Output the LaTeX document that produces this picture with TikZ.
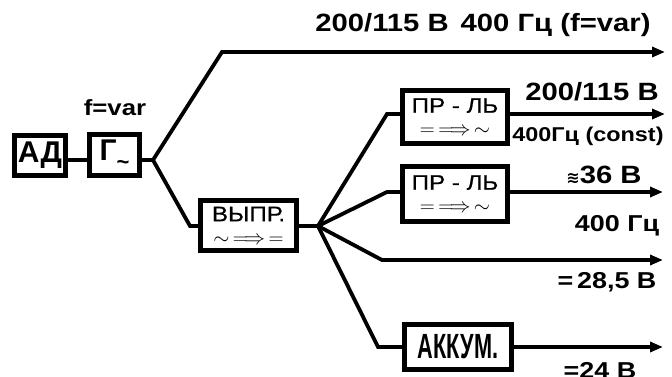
\documentclass[tikz,border=0pt]{standalone}
\usepackage{fontspec}
\setmainfont{Liberation Sans}
\newfontfamily\widefont{Liberation Sans}[FakeStretch=1.17]
\newfontfamily\boxfont{Liberation Sans}[FakeStretch=1.15,FakeBold=0.6]
\newfontfamily\narrowfont{Liberation Sans}[FakeStretch=0.62]
\newfontfamily\symfont{DejaVu Sans}
\usetikzlibrary{arrows.meta}

\begin{document}
\begin{tikzpicture}[x=1pt,y=-1pt,
  blk/.style={draw, line width=5pt, inner sep=0pt, anchor=center, align=center},
  conv/.style={blk, font=\boxfont\fontsize{21}{20}\selectfont},
  wire/.style={line width=3.8pt, line join=miter},
  feed/.style={wire, -{Triangle[length=13pt,width=10pt]}},
  lab/.style={inner sep=0pt, anchor=base, font=\widefont\bfseries\fontsize{25}{25}\selectfont},
  midlab/.style={lab, font=\widefont\bfseries\fontsize{23}{23}\selectfont},
]
\useasboundingbox (0,0) rectangle (672,377);

% blocks
\node[blk, minimum width=51pt, minimum height=40pt,
      font=\bfseries\fontsize{30}{30}\selectfont] (AD) at (40,155.5) {АД};
\node[blk, minimum width=50pt, minimum height=41pt,
      font=\bfseries\fontsize{30}{30}\selectfont] (G) at (114.5,155)
      {Г\raisebox{-9pt}{\fontsize{22}{22}\selectfont\textasciitilde}};
\node[conv, minimum width=96pt, minimum height=50pt] (VP) at (248.5,225.5)
      {ВЫПР.\\[3pt]
       {\fontsize{21}{21}\selectfont$\sim\,\Longrightarrow\,=$}};
\node[conv, minimum width=105pt, minimum height=53pt] (PR1) at (455,117)
      {ПР - ЛЬ\\[3pt]
       {\fontsize{21}{21}\selectfont$=\,\Longrightarrow\,\sim$}};
\node[conv, minimum width=105pt, minimum height=55pt] (PR2) at (455,194)
      {ПР - ЛЬ\\[3pt]
       {\fontsize{21}{21}\selectfont$=\,\Longrightarrow\,\sim$}};
\node[blk, minimum width=107pt, minimum height=45pt,
      font=\narrowfont\bfseries\fontsize{35}{35}\selectfont] (AK) at (458,347) {АККУМ.};

% branch points, bends and line ends
\coordinate (b1) at (153,160);
\coordinate (k0) at (222,52);
\coordinate (e0) at (665,52);
\coordinate (k1) at (190,226);
\coordinate (b2) at (318,226);
\coordinate (k2) at (387,114);
\coordinate (e2) at (665,114);
\coordinate (k3) at (387,192);
\coordinate (e3) at (663,192);
\coordinate (k4) at (382,260);
\coordinate (e4) at (663,260);
\coordinate (k5) at (378,347);
\coordinate (e5) at (663,347);

% connectors
\draw[wire] (AD.east |- b1) -- (G.west |- b1);
\draw[wire] (G.east |- b1) -- (b1);
\draw[feed] (b1) -- (k0) -- (e0);
\draw[wire] (b1) -- (k1) -- (k1 -| VP.west);
\draw[wire] (VP.east |- b2) -- (b2);
\draw[wire] (b2) -- (k2) -- (k2 -| PR1.west);
\draw[feed] (k2 -| PR1.east) -- (e2);
\draw[wire] (b2) -- (k3) -- (k3 -| PR2.west);
\draw[feed] (k3 -| PR2.east) -- (e3);
\draw[feed] (b2) -- (k4) -- (e4);
\draw[wire] (b2) -- (k5) -- (k5 -| AK.west);
\draw[feed] (k5 -| AK.east) -- (e5);

% labels
\node[lab] (t0) at (483,32) {200/115 В\hspace{12pt}400 Гц (f=var)};
\node[lab, font=\widefont\bfseries\fontsize{22}{22}\selectfont] (tf) at (115,116) {f=var};
\node[lab] (t1) at (592,101) {200/115 В};
\node[lab, font=\widefont\bfseries\fontsize{20}{20}\selectfont] (t1b) at (588,142) {400Гц (const)};
\node[lab] (t2) at (604,183) {{\symfont\fontsize{16}{16}\selectfont ≋}36 В};
\node[midlab] (t2b) at (617,231) {400 Гц};
\node[midlab] (t3) at (607,288) {=\,28,5 В};
\node[midlab] (t4) at (600,378) {=24 В};
\end{tikzpicture}
\end{document}
